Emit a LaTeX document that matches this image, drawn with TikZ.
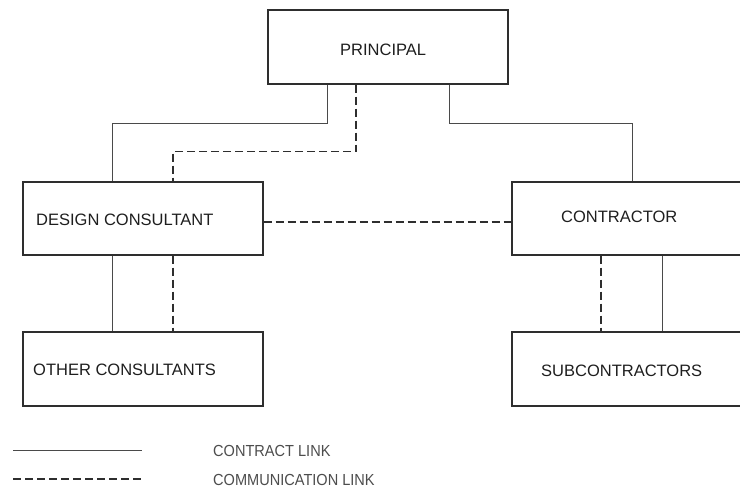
\documentclass[tikz,border=0pt]{standalone}
\usepackage{fontspec}
\setmainfont{Liberation Sans}
\newfontfamily\legendfont[FakeStretch=0.91]{Liberation Sans}
\usetikzlibrary{calc}
\definecolor{boxline}{HTML}{2E2E2E}
\definecolor{linkline}{HTML}{4A4A4A}
\definecolor{boxtext}{HTML}{1E1E1E}
\definecolor{legendtext}{HTML}{4D4D4D}
\tikzset{
  orgbox/.style={draw=boxline, line width=1.6pt, rectangle, inner sep=0pt, anchor=north west},
  boxlabel/.style={text=boxtext, inner sep=0pt, anchor=west, font=\fontsize{16.5}{20}\selectfont},
  legendlabel/.style={text=legendtext, inner sep=0pt, anchor=west, font=\legendfont\fontsize{16}{19}\selectfont},
  contract/.style={draw=linkline, line width=1pt},
  communication/.style={draw=boxline, line width=1.6pt, dash pattern=on 8pt off 4pt}
}
\begin{document}
\begin{tikzpicture}[x=1pt, y=-1pt]
\useasboundingbox (0,0) rectangle (740,489);
\clip (0,0) rectangle (740,489);

% boxes
\node[orgbox, minimum width=240pt, minimum height=74pt] (p) at (267,9) {};
\node[orgbox, minimum width=240pt, minimum height=73pt] (d) at (22,181) {};
\node[orgbox, minimum width=250pt, minimum height=73pt] (c) at (511,181) {};
\node[orgbox, minimum width=240pt, minimum height=74pt] (o) at (22,331) {};
\node[orgbox, minimum width=250pt, minimum height=74pt] (s) at (511,331) {};

% box texts
\node[boxlabel] (pt) at (340,50) {PRINCIPAL};
\node[boxlabel] (dt) at (36,220) {DESIGN CONSULTANT};
\node[boxlabel] (ct) at (561,217) {CONTRACTOR};
\node[boxlabel] (ot) at (33,370) {OTHER CONSULTANTS};
\node[boxlabel] (st) at (541,371) {SUBCONTRACTORS};

% principal links
\draw[contract] ($(p.south west)+(60,0)$) -- ++(0,39) -| ($(d.north west)+(90,0)$);
\draw[communication] ($(p.south west)+(89,0)$) -- ++(0,67) -| ($(d.north west)+(151,0)$);
\draw[contract] ($(p.south west)+(182,0)$) -- ++(0,39) -| ($(c.north west)+(121,0)$);

% design consultant to contractor
\draw[communication] ([yshift=-3.5pt]d.east) -- ([yshift=-3.5pt]d.east -| c.west);

% design consultant to other consultants
\draw[contract] ($(d.south west)+(90,0)$) -- ($(o.north west)+(90,0)$);
\draw[communication] ($(d.south west)+(151,0)$) -- ($(o.north west)+(151,0)$);

% contractor to subcontractors
\draw[communication] ($(c.south west)+(90,0)$) -- ($(s.north west)+(90,0)$);
\draw[contract] ($(c.south west)+(151,0)$) -- ($(s.north west)+(151,0)$);

% legend
\coordinate (l1a) at (13,451);
\coordinate (l1b) at (142,451);
\coordinate (l2a) at (13,479);
\coordinate (l2b) at (142,479);
\draw[contract] (l1a) -- (l1b);
\draw[communication] (l2a) -- (l2b);
\node[legendlabel] (lt1) at (213,451) {CONTRACT LINK};
\node[legendlabel] (lt2) at (213,480) {COMMUNICATION LINK};
\end{tikzpicture}
\end{document}
